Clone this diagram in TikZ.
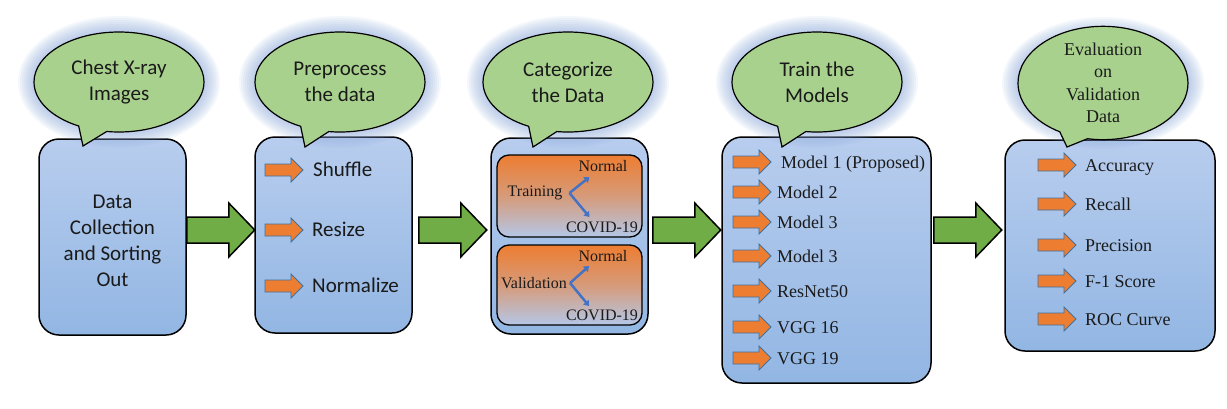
\documentclass[tikz,border=0pt]{standalone}
\usepackage{fontspec}
\setmainfont{Liberation Serif}
\newfontfamily\calfont{Carlito}
\usetikzlibrary{shapes.callouts,arrows.meta,calc}
\definecolor{bubg}{HTML}{A9D18E}
\definecolor{glowc}{HTML}{8FAADC}
\definecolor{boxtop}{HTML}{B8CDEE}
\definecolor{boxbot}{HTML}{92B6E3}
\definecolor{orng}{HTML}{ED7D31}
\definecolor{orngedge}{HTML}{41719C}
\definecolor{grn}{HTML}{70AD47}
\definecolor{conn}{HTML}{4472C4}
\definecolor{ltblue}{HTML}{B4C7E7}
\definecolor{txt}{HTML}{1A1A1A}
\newcommand\mkbubble[7]{%
  \foreach \r in {16,14,...,2}{%
    \fill[glowc,opacity=0.09] (#2,#3) ellipse [x radius=85+\r, y radius=50+\r];}%
  \node[bubble, #7, callout absolute pointer={(#4,#5)}] (#1) at (#2,#3) {#6};}
\begin{document}
\begin{tikzpicture}[x=1pt,y=-1pt,
  box/.style={draw=black, line width=1.5pt, rounded corners=20pt, top color=boxtop, bottom color=boxbot, inner sep=0},
  inbox/.style={draw=black, line width=1.3pt, rounded corners=12pt, top color=orng, bottom color=ltblue, middle color=orng!60!ltblue, inner sep=0},
  bubble/.style={ellipse callout, draw=black, line width=1.2pt, fill=bubg, minimum width=170pt, minimum height=100pt, inner sep=0, callout pointer arc=20, align=center, text=txt},
  sanst/.style={font=\calfont\fontsize{21}{26}\selectfont, text=txt},
  sert/.style={font=\fontsize{18}{22.5}\selectfont, text=txt},
  smallt/.style={font=\fontsize{16}{18}\selectfont, inner sep=0, text=txt},
  item/.style={anchor=west, inner sep=0, text height=12pt, text depth=0pt, text=txt},
  sitem/.style={item, text height=13.5pt, font=\calfont\fontsize{21}{26}\selectfont},
  ritem/.style={item, font=\fontsize{18}{22}\selectfont},
  splitarrow/.style={draw=conn, line width=2.5pt, -{Triangle[length=5pt,width=7pt]}},
  oarr/.pic={\draw[line width=0.8pt, draw=orngedge, fill=orng] (0,-6) -- (26,-6) -- (26,-12) -- (38,0) -- (26,12) -- (26,6) -- (0,6) -- cycle;},
  garr/.pic={\draw[line width=1.5pt, draw=black, fill=grn] (0,-13) -- (42,-13) -- (42,-27) -- (68,0) -- (42,27) -- (42,13) -- (0,13) -- cycle;}
]
\useasboundingbox[fill=white] (0,0) rectangle (1227,408);
\coordinate (mid) at (0,230);

% boxes
\node[box, minimum width=147pt, minimum height=196pt] (b1) at (112.5,237) {};
\node[box, minimum width=157pt, minimum height=196pt] (b2) at (333.5,235) {};
\node[box, minimum width=157pt, minimum height=196pt] (b3) at (569.5,236) {};
\node[box, minimum width=209pt, minimum height=246pt] (b4) at (826.5,260) {};
\node[box, minimum width=210pt, minimum height=211pt] (b5) at (1110,245.5) {};

% bubbles
\mkbubble{c1}{119}{82}{83}{146}{Chest X-ray\\Images}{sanst}
\mkbubble{c2}{340}{82}{305}{147}{Preprocess\\the data}{sanst}
\mkbubble{c3}{568}{82}{533}{147}{Categorize\\the Data}{sanst}
\mkbubble{c4}{817}{82}{782}{147}{Train the\\Models}{sanst}
\mkbubble{c5}{1103}{83}{1067}{147}{Evaluation\\on\\Validation\\Data}{sert}

% box 1 text
\node[sanst, align=center] (t1) at ([yshift=-4pt]b1.center) {Data\\Collection\\and Sorting\\Out};

% box 2 items
\pic at (265,170) {oarr};
\pic at (265,230) {oarr};
\pic at (265,286) {oarr};
\node[sitem] (s1) at (313,170) {Shuffle};
\node[sitem] (s2) at (312,230) {Resize};
\node[sitem] (s3) at (312,286) {Normalize};

% box 3 inner
\node[inbox, minimum width=145pt, minimum height=82pt] (tb) at (569.5,196) {};
\node[inbox, minimum width=145pt, minimum height=80pt] (vb) at (569.5,285) {};
\node[smallt] (tr) at (535,193) {Training};
\node[smallt] (tn) at (603,166) {Normal};
\node[smallt] (tc) at (602,227) {COVID-19};
\coordinate (ts) at ([xshift=7pt]tr.east);
\draw[splitarrow] (ts) -- ++(20,-16);
\draw[splitarrow] (ts) -- ++(20,24);
\node[smallt] (vl) at (534,283) {Validation};
\node[smallt] (vn) at (603,256) {Normal};
\node[smallt] (vc) at (602,315) {COVID-19};
\coordinate (vs) at ([xshift=3pt]vl.east);
\draw[splitarrow] (vs) -- ++(19,-17);
\draw[splitarrow] (vs) -- ++(19,23);

% box 4 items
\foreach \yy in {162,192,222,256,291,327,358} {\pic at (733,\yy) {oarr};}
\node[ritem] (m1) at (781,162) {Model 1 (Proposed)};
\node[ritem] (m2) at (777,192) {Model 2};
\node[ritem] (m3) at (777,222) {Model 3};
\node[ritem] (m4) at (777,256) {Model 3};
\node[ritem] (m5) at (777,291) {ResNet50};
\node[ritem] (m6) at (777,327) {VGG 16};
\node[ritem] (m7) at (777,358) {VGG 19};

% box 5 items
\foreach \yy in {165,204,245,281,319} {\pic at (1038,\yy) {oarr};}
\node[ritem] (e1) at (1085,165) {Accuracy};
\node[ritem] (e2) at (1085,204) {Recall};
\node[ritem] (e3) at (1085,245) {Precision};
\node[ritem] (e4) at (1085,281) {F-1 Score};
\node[ritem] (e5) at (1085,319) {ROC Curve};

% green arrows between boxes
\pic at (b1.east |- mid) {garr};
\pic at ([xshift=6pt]b2.east |- mid) {garr};
\pic at ([xshift=4pt]b3.east |- mid) {garr};
\pic at ([xshift=2pt]b4.east |- mid) {garr};
\end{tikzpicture}
\end{document}
